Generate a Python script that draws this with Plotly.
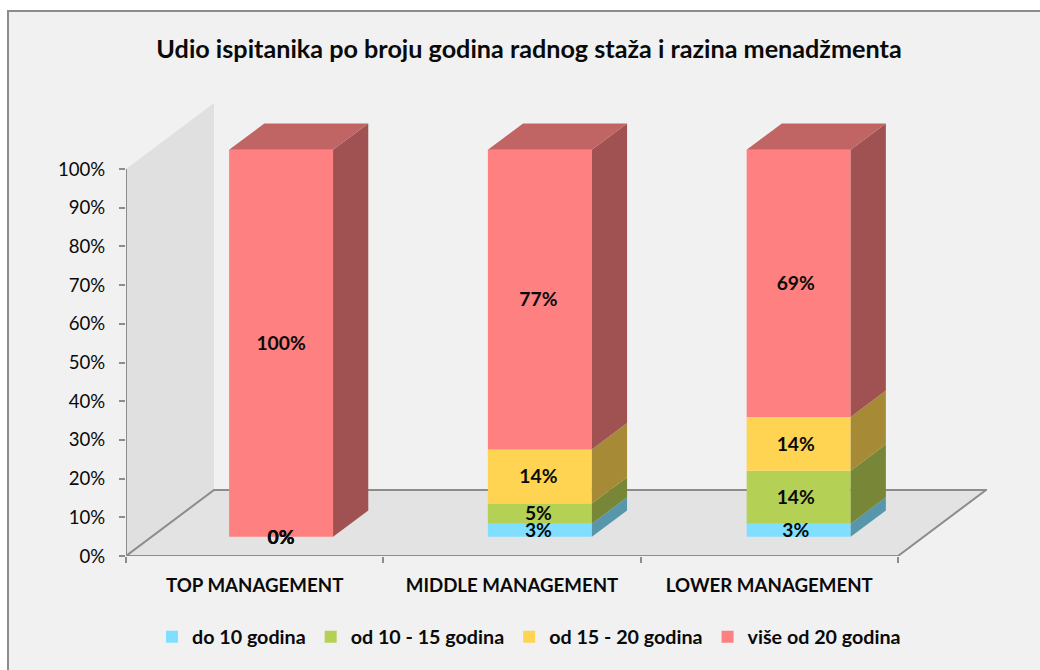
import plotly.graph_objects as go

categories = ["TOP MANAGEMENT", "MIDDLE MANAGEMENT", "LOWER MANAGEMENT"]
series_names = ["do 10 godina", "od 10 - 15 godina", "od 15 - 20 godina", "više od 20 godina"]
do_10 = [0, 3.4, 3.4]
od_10_15 = [0, 5.2, 13.7]
od_15_20 = [0, 14.0, 13.9]
vise_20 = [100, 77.4, 69.0]
y_ticks = list(range(0, 101, 10))

front_colors = ["#80DFFF", "#B5D155", "#FFD452", "#FF8080"]
side_colors = ["#5796AB", "#778737", "#A68A36", "#A05252"]
top_color = "#C06464"
AXIS = "#8C8C8C"
INK = "#0A0A0A"
FONT = "Lato"

# plot area in pixels
M_L, M_R, M_T, M_B = 126, 53, 103, 114
W, H = 1040, 670
PLOT_W = W - M_L - M_R
PLOT_H = H - M_T - M_B

# pseudo-3D projection, in axis units
PX_X = 257.33
PX_Y = 3.87
DX = 88 / PX_X
DY = 66 / PX_Y
FX0, FY0, D = 0.30, 0.29, 0.40   # where the bar starts in the depth, and how deep it is
BAR_W = 104 / PX_X
BAR_STEP = 258.8 / PX_X          # bars sit slightly wider apart than the ticks
LABEL_DROP = 2 / PX_Y            # optical centring of the data labels
xs = list(range(len(categories)))
bar_xs = [x * BAR_STEP + FX0 * DX for x in xs]
label_xs = [x + FX0 * DX for x in xs]
series = [do_10, od_10_15, od_15_20, vise_20]

fig = go.Figure()

shapes = [
    # chart frame: runs off the right and bottom edges of the picture
    dict(type="rect", layer="below", xref="paper", yref="paper",
         x0=(8 - M_L) / PLOT_W, x1=(W + 10 - M_L) / PLOT_W,
         y0=(H - M_B - H - 10) / PLOT_H, y1=(H - M_B - 11) / PLOT_H,
         fillcolor="#F1F1F1", line=dict(color=AXIS, width=2)),
    # wall and floor
    dict(type="path", layer="below", line_width=0, fillcolor="#E0E0E0",
         path=f"M -0.5 0 L {-0.5+DX} {DY} L {-0.5+DX} {100+DY} L -0.5 100 Z"),
    dict(type="path", layer="below", fillcolor="#E3E3E3", line=dict(color=AXIS, width=2),
         path=f"M -0.5 0 L {-0.5+DX} {DY} L {2.5+DX} {DY} L 2.5 0 Z"),
    dict(type="line", layer="below", x0=-0.5, x1=-0.5, y0=0, y1=100, line=dict(color=AXIS, width=2)),
]

cum = [0, 0, 0]
for i, vals in enumerate(series):
    base = [c + FY0 * DY for c in cum]
    fig.add_trace(go.Bar(
        x=bar_xs, y=vals, base=base, width=BAR_W,
        name=series_names[i], marker=dict(color=front_colors[i], line_width=0),
        hoverinfo="name+y",
    ))
    sx, sy = [], []
    for k, bx in enumerate(bar_xs):
        if vals[k] <= 0:
            continue
        x0 = bx + BAR_W / 2
        sx += [x0, x0 + D * DX, x0 + D * DX, x0, x0, None]
        sy += [base[k], base[k] + D * DY, base[k] + vals[k] + D * DY, base[k] + vals[k], base[k], None]
    fig.add_trace(go.Scatter(x=sx, y=sy, mode="lines", fill="toself", fillcolor=side_colors[i],
                             line=dict(width=0), showlegend=False, hoverinfo="skip"))
    cum = [c + v for c, v in zip(cum, vals)]

# top faces
tx, ty = [], []
for k, bx in enumerate(bar_xs):
    l = bx - BAR_W / 2
    r = l + BAR_W
    t = cum[k] + FY0 * DY
    tx += [l, r, r + D * DX, l + D * DX, l, None]
    ty += [t, t, t + D * DY, t + D * DY, t, None]
fig.add_trace(go.Scatter(x=tx, y=ty, mode="lines", fill="toself", fillcolor=top_color,
                         line=dict(width=0), showlegend=False, hoverinfo="skip"))

# data labels
cum = [0, 0, 0]
for i, vals in enumerate(series):
    fig.add_trace(go.Scatter(
        x=label_xs,
        y=[c + v / 2 + FY0 * DY - LABEL_DROP for c, v in zip(cum, vals)],
        mode="text", text=[f"{round(v)}%" for v in vals], textposition="middle center",
        textfont=dict(family=FONT, size=19.3, color=INK, weight="bold"),
        showlegend=False, hoverinfo="skip", cliponaxis=False,
    ))
    cum = [c + v for c, v in zip(cum, vals)]

fig.update_layout(
    width=W, height=H,
    margin=dict(l=M_L, r=M_R, t=M_T, b=M_B, autoexpand=False),
    paper_bgcolor="#FFFFFF", plot_bgcolor="rgba(0,0,0,0)",
    barmode="overlay", shapes=shapes,
    title=dict(text="Udio ispitanika po broju godina radnog staža i razina menadžmenta",
               x=529 / W, xanchor="center", y=1 - 49 / H, yanchor="middle",
               font=dict(family=FONT, size=25.2, color=INK, weight="bold")),
    font=dict(family=FONT, color=INK),
    showlegend=True,
    legend=dict(orientation="h", x=(529 - M_L) / PLOT_W, xref="paper", xanchor="center",
                y=(H - M_B - 637) / PLOT_H, yanchor="middle",
                font=dict(family=FONT, size=19.7, color=INK, weight="bold"),
                traceorder="normal", bgcolor="rgba(0,0,0,0)"),
    xaxis=dict(range=[-0.5, -0.5 + PLOT_W / PX_X], tickmode="array", tickvals=xs, ticktext=categories,
               ticks="", showgrid=False, zeroline=False, showline=False, fixedrange=True,
               tickfont=dict(family=FONT, size=18.7, color=INK, weight="bold"), ticklabelstandoff=16,
               minor=dict(tickmode="array", tickvals=[-0.5, 0.5, 1.5, 2.5], ticks="outside", ticklen=6,
                          tickwidth=2, tickcolor=AXIS)),
    yaxis=dict(range=[0, PLOT_H / PX_Y], tickmode="array", tickvals=y_ticks,
               ticktext=[f"{v}%" for v in y_ticks],
               ticks="outside", ticklen=6, tickwidth=2, tickcolor=AXIS, showgrid=False, zeroline=False,
               showline=False, fixedrange=True, ticklabelstandoff=10,
               tickfont=dict(family=FONT, size=18.6, color=INK)),
)
fig.write_html("out.html", config=dict(displayModeBar=False),
               post_script="document.body.style.margin='0';")
